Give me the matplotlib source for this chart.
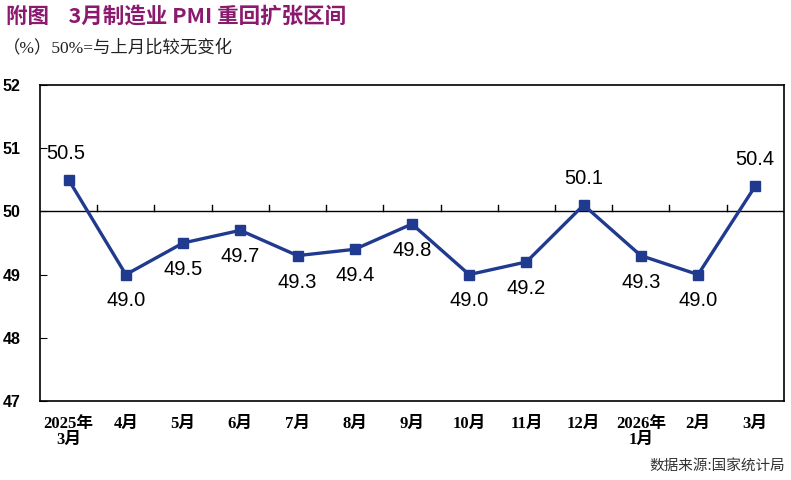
import matplotlib
matplotlib.use('Agg')
import matplotlib.pyplot as plt

months = ['2025年\n3月', '4月', '5月', '6月', '7月', '8月', '9月', '10月', '11月', '12月', '2026年\n1月', '2月', '3月']
pmi = [50.5, 49.0, 49.5, 49.7, 49.3, 49.4, 49.8, 49.0, 49.2, 50.1, 49.3, 49.0, 50.4]
above = [True, False, False, False, False, False, False, False, False, True, False, False, True]

sans = ['Liberation Sans', 'Noto Sans CJK SC']
serif = ['Liberation Serif', 'Noto Sans CJK SC']
blue = '#1f3a8f'

fig = plt.figure(figsize=(7.91, 4.80), dpi=100)
ax = fig.add_axes([0.0506, 0.1646, 0.9404, 0.6584])

x = list(range(len(pmi)))
ax.plot(x, pmi, color=blue, lw=2.4, marker='s', ms=6.5, mfc=blue, mec=blue, zorder=3)
ax.axhline(50, color='black', lw=1, zorder=1)
# small upward ticks on the 50 line between categories
for b in range(1, len(pmi)):
    ax.plot([b - 0.5, b - 0.5], [50, 50.1], color='black', lw=1, zorder=1)

for i, v in enumerate(pmi):
    dy = 19 if above[i] else -19
    dx = -2 if i == 0 else 0
    ax.annotate(f'{v:.1f}', (i, v), xytext=(dx, dy), textcoords='offset points',
                ha='center', va='center', fontsize=14.5, family=sans, color='black')

ax.set_xlim(-0.5, len(pmi) - 0.5)
ax.set_ylim(47, 52)
ax.set_yticks([47, 48, 49, 50, 51, 52])
ax.set_xticks(x)
ax.set_xticklabels(months, family=serif, fontsize=12, fontweight='bold', linespacing=1.0)
for lab in ax.get_yticklabels():
    lab.set_family(sans)
    lab.set_fontsize(11.5)
    lab.set_fontweight('bold')
ax.tick_params(axis='x', length=0, pad=11)
ax.tick_params(axis='y', direction='in', length=5, pad=14)
for s in ax.spines.values():
    s.set_linewidth(1.2)

fig.text(0.008, 0.967, '附图    3月制造业 PMI 重回扩张区间', family=['Noto Sans CJK SC'],
         fontweight='bold', fontsize=15.5, color='#8b1a6f', va='center')
fig.text(0.004, 0.900, '（%）50%=与上月比较无变化', family=serif, fontsize=12.5,
         color='#222222', va='center')
fig.text(0.993, 0.027, '数据来源:国家统计局', family=['Noto Sans CJK SC'], fontsize=10.5,
         color='#333333', ha='right', va='center')

fig.savefig('out.png', dpi=100)
